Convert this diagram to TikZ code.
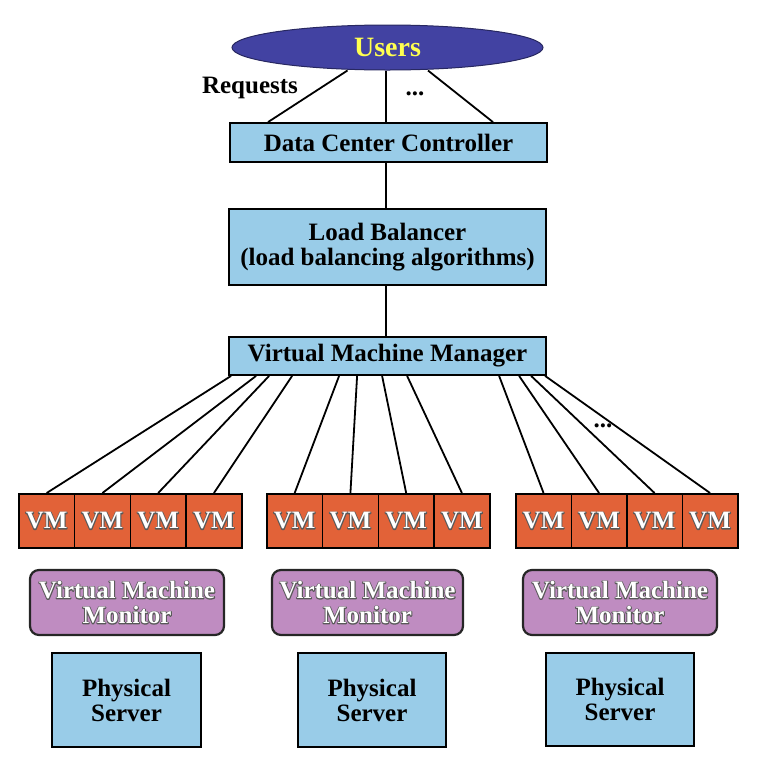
\documentclass[tikz,border=0pt]{standalone}
\usepackage{fontspec}
\setmainfont{Liberation Serif}
\usetikzlibrary{shapes.geometric}
\definecolor{boxblue}{RGB}{153,204,232}
\definecolor{vmorange}{RGB}{226,98,56}
\definecolor{vmmpurple}{RGB}{191,140,193}
\definecolor{userblue}{RGB}{66,66,162}
\definecolor{useryellow}{RGB}{255,255,80}
\newcommand\oltxt[1]{\rlap{\color{black}\special{pdf:literal direct 0.35 G 1.8 w 1 j 1 Tr}#1\special{pdf:literal direct 0 Tr}}{\color{white}#1}}
\begin{document}
\begin{tikzpicture}[x=1pt,y=-1pt,
  every node/.style={font=\fontsize{25}{25}\selectfont\bfseries},
  bluebox/.style={draw=black, line width=1.8pt, fill=boxblue, inner sep=0pt, align=center},
  vmbox/.style={draw=black, line width=1.6pt, fill=vmorange, minimum width=55.6pt, minimum height=54pt, inner sep=0pt},
  monbox/.style={draw=black!85, line width=2.2pt, fill=vmmpurple, rounded corners=9pt, minimum height=65pt, inner sep=0pt, align=center},
  srvbox/.style={bluebox, minimum width=148pt, minimum height=94pt},
  conn/.style={line width=1.8pt}]
\useasboundingbox (0,0) rectangle (774,764);

% Users
\node[ellipse, draw=userblue!60!black, line width=1pt, fill=userblue, minimum width=311pt, minimum height=45pt, inner sep=0pt, text=useryellow, font=\fontsize{28}{28}\selectfont\bfseries] (users) at (387.5,47.5) {Users};

\node[bluebox, minimum width=317pt, minimum height=39pt] (dcc) at (388.5,142.5) {Data Center Controller};
\node[bluebox, minimum width=317pt, minimum height=76pt] (lb) at (387.5,247) {Load Balancer\\(load balancing algorithms)};
\node[bluebox, minimum width=317pt, minimum height=38pt] (vmm) at (387.5,356) {Virtual Machine Manager};

\node (req) at (250,88) {Requests};
\node (dots1) at (415,94) {...};
\node (dots2) at (603,426) {...};

% users -> dcc
\draw[conn] ([xshift=-40pt]users.south) -- ([xshift=-120.5pt]dcc.north);
\draw[conn] ([xshift=-1.5pt]users.south) -- ([xshift=-2.5pt]dcc.north);
\draw[conn] ([xshift=40.5pt]users.south) -- ([xshift=104.5pt]dcc.north);
\draw[conn] ([xshift=-2.5pt]dcc.south) -- ([xshift=-1.5pt]lb.north);
\draw[conn] ([xshift=-1.5pt]lb.south) -- ([xshift=-1.5pt]vmm.north);

% VMs
\foreach \g/\x/\w in {1/18/55.75, 2/266/55.75, 3/515/55.5}
  \foreach \i in {1,...,4}
    \node[vmbox, minimum width=\w pt, anchor=north west] (vm\g\i) at ({\x+\w*(\i-1)}, 493) {\oltxt{VM}};

% VMM -> VMs
\draw[conn] ([xshift=3pt]vmm.south west) -- (vm11.north);
\draw[conn] ([xshift=28pt]vmm.south west) -- (vm12.north);
\draw[conn] ([xshift=41pt]vmm.south west) -- (vm13.north);
\draw[conn] ([xshift=64pt]vmm.south west) -- (vm14.north);
\draw[conn] ([xshift=111pt]vmm.south west) -- (vm21.north);
\draw[conn] ([xshift=129pt]vmm.south west) -- (vm22.north);
\draw[conn] ([xshift=154pt]vmm.south west) -- (vm23.north);
\draw[conn] ([xshift=179pt]vmm.south west) -- (vm24.north);
\draw[conn] ([xshift=271pt]vmm.south west) -- (vm31.north);
\draw[conn] ([xshift=291pt]vmm.south west) -- (vm32.north);
\draw[conn] ([xshift=303pt]vmm.south west) -- (vm33.north);
\draw[conn] ([xshift=317pt]vmm.south west) -- (vm34.north);

% Monitors
\node[monbox, minimum width=194pt] (mon1) at (127,602.5) {\oltxt{Virtual Machine}\\\oltxt{Monitor}};
\node[monbox, minimum width=191pt] (mon2) at (367.5,602.5) {\oltxt{Virtual Machine}\\\oltxt{Monitor}};
\node[monbox, minimum width=194pt] (mon3) at (620,602.5) {\oltxt{Virtual Machine}\\\oltxt{Monitor}};

% Physical servers
\node[srvbox, minimum width=149pt] (ps1) at (126.5,700) {Physical\\Server};
\node[srvbox] (ps2) at (372,700) {Physical\\Server};
\node[srvbox, minimum height=93pt] (ps3) at (620,699.5) {Physical\\Server};
\end{tikzpicture}
\end{document}
